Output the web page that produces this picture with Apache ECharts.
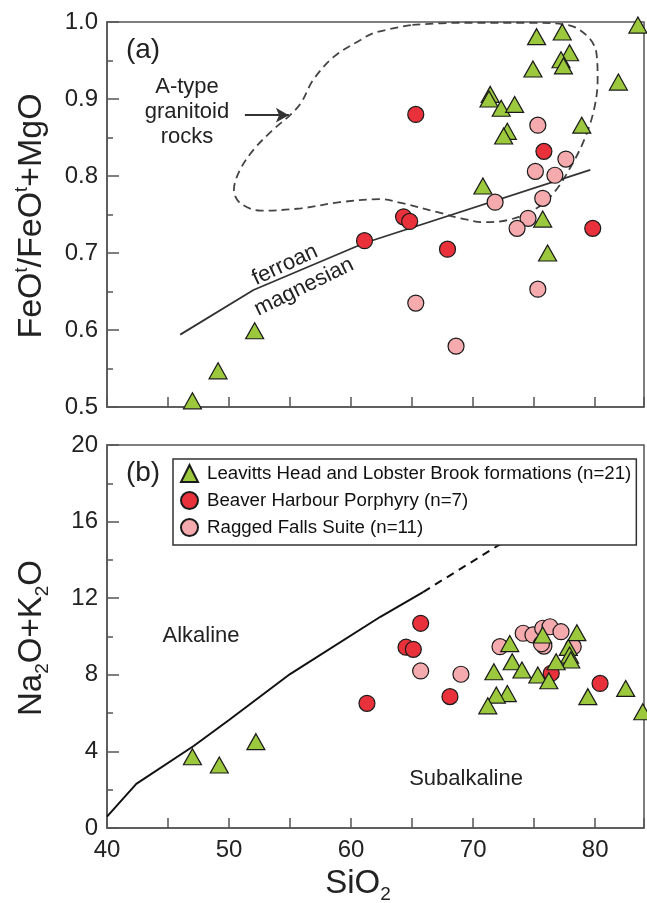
<!DOCTYPE html>
<html>
<head>
<meta charset="utf-8">
<script src="https://cdn.jsdelivr.net/npm/echarts@6/dist/echarts.min.js"></script>
<style>
  html, body { margin: 0; padding: 0; background: #fff; }
  #chart { width: 647px; height: 903px; }
</style>
</head>
<body>
<div id="chart"></div>
<script>
// (a) FeOt/(FeOt+MgO) vs SiO2
var leavittsA = [[75.2,0.981],[77.3,0.987],[83.5,0.996],[77.9,0.960],[77.2,0.951],[77.4,0.943],[74.9,0.939],
  [81.9,0.922],[71.4,0.906],[71.3,0.900],[72.3,0.888],[73.4,0.893],[72.8,0.858],[72.5,0.852],[78.9,0.866],
  [70.8,0.787],[75.7,0.744],[76.1,0.700],[52.1,0.599],[49.1,0.547],[47.0,0.508]];
var beaverA = [[65.3,0.880],[75.8,0.832],[64.3,0.747],[64.8,0.741],[61.1,0.716],[67.9,0.705],[79.8,0.732]];
var raggedA = [[75.3,0.866],[77.6,0.822],[75.1,0.806],[76.7,0.801],[71.8,0.766],[75.7,0.771],[74.5,0.745],
  [73.6,0.732],[75.3,0.653],[65.3,0.635],[68.6,0.579]];

// (b) Na2O+K2O vs SiO2
var leavittsB = [[75.7,10.08],[78.5,10.2],[73.0,9.63],[77.8,9.43],[77.9,9.03],[78.0,8.77],[76.8,8.68],
  [73.2,8.68],[74.0,8.25],[71.7,8.16],[75.3,7.99],[76.2,7.69],[72.8,7.02],[71.9,6.94],[71.2,6.38],
  [79.4,6.86],[82.5,7.29],[83.9,6.07],[47.0,3.72],[49.2,3.29],[52.2,4.51]];
var beaverB = [[65.7,10.69],[64.5,9.44],[65.1,9.33],[61.3,6.51],[68.1,6.86],[76.4,8.08],[80.4,7.55]];
var raggedB = [[65.7,8.20],[69.0,8.03],[72.2,9.47],[74.1,10.17],[74.9,10.08],[75.7,10.43],[76.3,10.51],
  [77.2,10.25],[75.8,9.50],[75.6,9.62],[78.2,9.47]];

// boundary lines / fields
var ferroanLine = [[46.0,0.594],[52.0,0.652],[61.1,0.713],[79.6,0.808]];
var aTypeField = [[64.9,0.996],[61.9,0.986],[60.8,0.977],[58.6,0.955],[56.9,0.925],[55.9,0.895],[55.0,0.879],
  [53.6,0.860],[52.0,0.834],[50.9,0.808],[50.4,0.782],[50.9,0.765],[52.6,0.755],[55.9,0.758],[59.1,0.766],
  [62.4,0.770],[64.1,0.765],[67.1,0.753],[69.0,0.745],[70.9,0.740],[72.9,0.743],[75.0,0.756],[76.6,0.778],
  [78.0,0.812],[79.1,0.847],[79.9,0.886],[80.2,0.925],[80.1,0.960],[79.4,0.981],[77.8,0.996],[74.5,0.999],
  [69.0,0.999],[64.9,0.996]];
var arrowLine = [[51.3,0.879],[54.9,0.879]];
var alkalineSolid = [[40,0.59],[42.4,2.3],[47.1,4.28],[50,5.64],[55,8.04],[62.4,11.03],[65.9,12.32]];
var alkalineDashed = [[65.9,12.32],[72.8,15.05]];

var names = ['Leavitts Head and Lobster Brook formations (n=21)', 'Beaver Harbour Porphyry (n=7)', 'Ragged Falls Suite (n=11)'];
var FONT = '"Liberation Sans", Arial, sans-serif';
var frame = '#555';

var chart = echarts.init(document.getElementById('chart'));

function xAxis(grid, labels) {
  return {
    gridIndex: grid, type: 'value', min: 40, max: 84, interval: 5,
    axisLine: { show: true, onZero: false, lineStyle: { color: frame, width: 1.5 } },
    axisTick: { inside: true, length: 10, lineStyle: { color: frame, width: 1.5 } },
    axisLabel: {
      show: labels, fontSize: 24, color: '#222', fontFamily: FONT, margin: 10,
      formatter: function (v) { return v % 10 === 0 ? v : ''; }
    },
    splitLine: { show: false }
  };
}

function yAxis(grid, min, max, step, fmt) {
  return {
    gridIndex: grid, type: 'value', min: min, max: max, interval: step,
    axisLine: { show: true, onZero: false, lineStyle: { color: frame, width: 1.5 } },
    axisTick: { inside: true, length: 12, lineStyle: { color: frame, width: 1.5 } },
    minorTick: { show: true, splitNumber: 2, length: 6, lineStyle: { color: frame, width: 1.5 } },
    axisLabel: { fontSize: 24, color: '#222', fontFamily: FONT, margin: 9, formatter: fmt },
    splitLine: { show: false }
  };
}

function pts(name, data, grid, kind) {
  var s = {
    name: name, type: 'scatter', xAxisIndex: grid, yAxisIndex: grid, data: data,
    itemStyle: { borderColor: '#1a1a1a', borderWidth: 1.2, opacity: 1 }
  };
  if (kind === 'tri') {
    s.symbol = 'triangle'; s.symbolSize = [18, 16]; s.itemStyle.color = '#9BC83C'; s.z = 5;
  } else if (kind === 'red') {
    s.symbol = 'circle'; s.symbolSize = 16; s.itemStyle.color = '#E8313A'; s.z = 4;
  } else {
    s.symbol = 'circle'; s.symbolSize = 16; s.itemStyle.color = '#F5AAAE'; s.z = 3;
  }
  return s;
}

function line(data, grid, color, width, type, smooth) {
  return {
    type: 'line', xAxisIndex: grid, yAxisIndex: grid, data: data, showSymbol: false, symbol: 'none',
    smooth: smooth || false, silent: true, z: 2,
    lineStyle: { color: color, width: width, type: type }
  };
}

var contour = line(aTypeField, 0, '#444', 1.8, [8, 5], 0.35);
contour.markLine = {
  silent: true, symbol: ['none', 'arrow'], symbolSize: [11, 13],
  lineStyle: { color: '#333', width: 2, type: 'solid' }, label: { show: false },
  data: [[{ coord: arrowLine[0] }, { coord: arrowLine[1] }]]
};

var txt = function (x, y, text, size, rot) {
  return {
    type: 'text', x: x, y: y, rotation: rot || 0, z: 10,
    style: { text: text, fontSize: size, fontFamily: FONT, fill: '#222', align: 'center', verticalAlign: 'middle' }
  };
};

chart.setOption({
  animation: false,
  backgroundColor: '#fff',
  grid: [
    { left: 107, top: 22, width: 537, height: 385, show: true, borderColor: frame, borderWidth: 1.5 },
    { left: 107, top: 445, width: 537, height: 383, show: true, borderColor: frame, borderWidth: 1.5 }
  ],
  xAxis: [xAxis(0, false), xAxis(1, true)],
  yAxis: [
    yAxis(0, 0.5, 1.0, 0.1, function (v) { return v.toFixed(1); }),
    yAxis(1, 0, 20, 4, function (v) { return v; })
  ],
  legend: {
    left: 173, top: 459, orient: 'vertical', data: names,
    backgroundColor: '#fff', borderColor: '#333', borderWidth: 1.5, borderRadius: 0,
    padding: [5, 5, 8, 7], itemWidth: 17, itemHeight: 17, itemGap: 8,
    textStyle: { fontSize: 18.7, lineHeight: 17, color: '#111', fontFamily: FONT, padding: [0, 0, 0, 4] }
  },
  graphic: [
    txt(143, 50, '(a)', 28),
    txt(143, 473, '(b)', 28),
    txt(187, 87, 'A-type', 22),
    txt(187, 112, 'granitoid', 22),
    txt(187, 137, 'rocks', 22),
    txt(285, 265, 'ferroan', 22, 25 * Math.PI / 180),
    txt(304, 287, 'magnesian', 22, 26 * Math.PI / 180),
    txt(201, 636, 'Alkaline', 22),
    txt(466, 779, 'Subalkaline', 22),
    {
      type: 'text', x: 32, y: 216, rotation: Math.PI / 2, z: 10,
      style: {
        text: '{b|FeO}{s|t}{b|/FeO}{s|t}{b|+MgO}', align: 'center', verticalAlign: 'middle', fill: '#222',
        rich: {
          b: { fontSize: 34, fontFamily: FONT, lineHeight: 38, fill: '#222' },
          s: { fontSize: 18, fontFamily: FONT, lineHeight: 18, verticalAlign: 'top', fill: '#222' }
        }
      }
    },
    {
      type: 'text', x: 32, y: 638, rotation: Math.PI / 2, z: 10,
      style: {
        text: '{b|Na}{s|2}{b|O+K}{s|2}{b|O}', align: 'center', verticalAlign: 'middle', fill: '#222',
        rich: {
          b: { fontSize: 33, fontFamily: FONT, lineHeight: 40, fill: '#222' },
          s: { fontSize: 19, fontFamily: FONT, lineHeight: 19, verticalAlign: 'bottom', fill: '#222' }
        }
      }
    },
    {
      type: 'text', x: 358, y: 884, z: 10,
      style: {
        text: '{b|SiO}{s|2}', align: 'center', verticalAlign: 'middle', fill: '#222',
        rich: {
          b: { fontSize: 33, fontFamily: FONT, lineHeight: 40, fill: '#222' },
          s: { fontSize: 19, fontFamily: FONT, lineHeight: 19, verticalAlign: 'bottom', fill: '#222' }
        }
      }
    }
  ],
  series: [
    contour,
    line(ferroanLine, 0, '#333', 1.8, 'solid'),
    line(alkalineSolid, 1, '#111', 2, 'solid'),
    line(alkalineDashed, 1, '#111', 2, [8, 6]),
    pts(names[2], raggedA, 0, 'pink'),
    pts(names[1], beaverA, 0, 'red'),
    pts(names[0], leavittsA, 0, 'tri'),
    pts(names[2], raggedB, 1, 'pink'),
    pts(names[1], beaverB, 1, 'red'),
    pts(names[0], leavittsB, 1, 'tri')
  ]
});
</script>
</body>
</html>
